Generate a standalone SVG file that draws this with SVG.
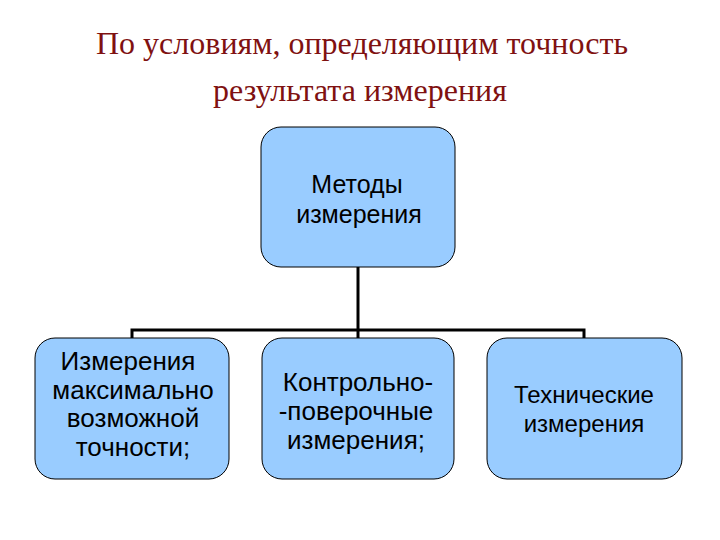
<svg xmlns="http://www.w3.org/2000/svg" width="720" height="540" viewBox="0 0 720 540">
<style>
.title{font-family:"Liberation Serif","Times New Roman",serif;font-size:32px;fill:#7f1111;text-anchor:middle}
.box{fill:#99ccff;stroke:#000;stroke-width:1}
.lbl{font-family:"Liberation Sans",Arial,sans-serif;font-size:26px;fill:#000;text-anchor:middle}
.md{font-size:25px}
.sm{font-size:24px}
.con{fill:none;stroke:#000;stroke-width:3}
</style>
<rect width="720" height="540" fill="#fff"/>
<text class="title" x="362" y="54">По условиям, определяющим точность</text>
<text class="title" x="360" y="101">результата измерения</text>
<g id="connectors">
<path class="con" d="M358 267 V338"/>
<path class="con" d="M132 338 V330 H584 V338"/>
</g>
<g id="node-top">
<rect class="box" x="261" y="127" width="194" height="140" rx="20"/>
<text class="lbl md" x="357" y="193">Методы</text>
<text class="lbl md" x="359" y="223">измерения</text>
</g>
<g id="node-1">
<rect class="box" x="35" y="338" width="194" height="141" rx="20"/>
<text class="lbl" x="128" y="370">Измерения</text>
<text class="lbl" x="133" y="399">максимально</text>
<text class="lbl" x="133" y="427">возможной</text>
<text class="lbl" x="133" y="456">точности;</text>
</g>
<g id="node-2">
<rect class="box" x="262" y="338" width="192" height="141" rx="20"/>
<text class="lbl" x="358" y="391">Контрольно-</text>
<text class="lbl" x="356" y="420">-поверочные</text>
<text class="lbl" x="356" y="449">измерения;</text>
</g>
<g id="node-3">
<rect class="box" x="487" y="338" width="195" height="141" rx="20"/>
<text class="lbl sm" x="584" y="403">Технические</text>
<text class="lbl sm" x="584" y="432">измерения</text>
</g>
</svg>
